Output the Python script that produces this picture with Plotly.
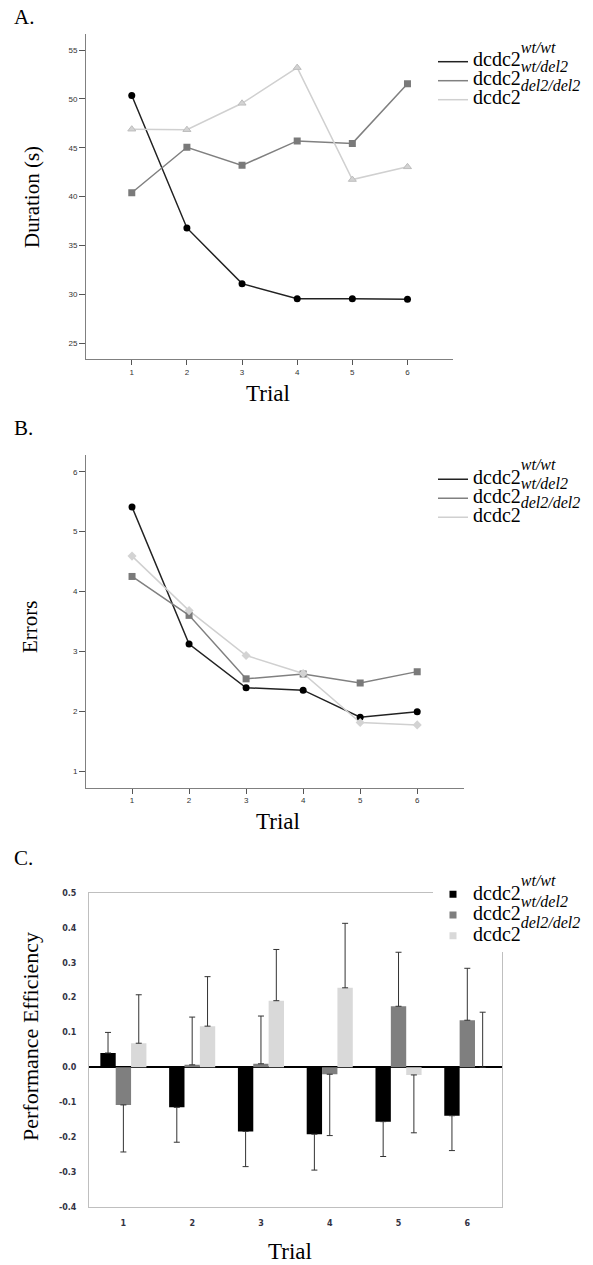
import plotly.graph_objects as go

# ---------------- data ----------------
trials = [1, 2, 3, 4, 5, 6]
trial_labels = ["1", "2", "3", "4", "5", "6"]
genotypes = ["wt/wt", "wt/del2", "del2/del2"]

# Panel A: duration (s)
duration_wt = [50.35, 36.8, 31.1, 29.55, 29.55, 29.5]
duration_het = [40.4, 45.05, 43.2, 45.7, 45.45, 51.55]
duration_del = [46.9, 46.85, 49.55, 53.2, 41.75, 43.05]
duration_ticks = [25, 30, 35, 40, 45, 50, 55]

# Panel B: errors
errors_wt = [5.41, 3.12, 2.39, 2.35, 1.90, 1.99]
errors_het = [4.25, 3.60, 2.54, 2.62, 2.47, 2.66]
errors_del = [4.59, 3.68, 2.93, 2.63, 1.81, 1.77]
errors_ticks = [1, 2, 3, 4, 5, 6]

# Panel C: performance efficiency (mean and error-bar length)
eff_wt = [0.041, -0.115, -0.184, -0.192, -0.156, -0.139]
eff_het = [-0.108, 0.007, 0.010, -0.020, 0.175, 0.135]
eff_del = [0.069, 0.118, 0.191, 0.228, -0.022, 0.000]
eff_err_wt = [0.059, 0.100, 0.101, 0.103, 0.100, 0.100]
eff_err_het = [0.135, 0.137, 0.137, 0.176, 0.155, 0.149]
eff_err_del = [0.139, 0.142, 0.147, 0.185, 0.166, 0.158]
eff_ticks = [-0.4, -0.3, -0.2, -0.1, 0.0, 0.1, 0.2, 0.3, 0.4, 0.5]
eff_tick_labels = ["-0.4", "-0.3", "-0.2", "-0.1", "0.0", "0.1", "0.2", "0.3", "0.4", "0.5"]

# ---------------- figure ----------------
W, H = 593, 1265
SERIF = "Liberation Serif, Times New Roman, serif"
SANS = "Liberation Sans, Arial, sans-serif"

line_cols = ["#222222", "#808080", "#d0d0d0"]
mark_cols = ["#000000", "#7a7a7a", "#d3d3d3"]
bar_cols = ["#000000", "#7f7f7f", "#d9d9d9"]


def lname(sup):
    return ('<span style="font-size:20px">dcdc2</span>'
            '<span style="font-size:32px"><sup><span style="font-size:16px"><i>'
            + sup + '</i></span></sup></span>')


def fx(px):
    return px / W


def fy(px):
    return 1 - px / H


fig = go.Figure()

# Panel A
symbolsA = ["circle", "square", "triangle-up"]
for i, (vals, g) in enumerate(zip([duration_wt, duration_het, duration_del], genotypes)):
    fig.add_trace(go.Scatter(x=trials, y=vals, mode="lines", name=lname(g),
                             line=dict(color=line_cols[i], width=1.5),
                             xaxis="x", yaxis="y", legend="legend"))
for i, vals in enumerate([duration_wt, duration_het, duration_del]):
    fig.add_trace(go.Scatter(x=trials, y=vals, mode="markers", showlegend=False,
                             marker=dict(symbol=symbolsA[i], size=7, color=mark_cols[i],
                                         line=dict(width=1 if i == 2 else 0, color="#bdbdbd")),
                             xaxis="x", yaxis="y"))

# Panel B
symbolsB = ["circle", "square", "diamond"]
for i, (vals, g) in enumerate(zip([errors_wt, errors_het, errors_del], genotypes)):
    fig.add_trace(go.Scatter(x=trials, y=vals, mode="lines", name=lname(g),
                             line=dict(color=line_cols[i], width=1.5),
                             xaxis="x2", yaxis="y2", legend="legend2"))
for i, vals in enumerate([errors_wt, errors_het, errors_del]):
    fig.add_trace(go.Scatter(x=trials, y=vals, mode="markers", showlegend=False,
                             marker=dict(symbol=symbolsB[i], size=7, color=mark_cols[i]),
                             xaxis="x2", yaxis="y2"))

# Panel C
for i, (vals, errs, g) in enumerate(zip([eff_wt, eff_het, eff_del],
                                        [eff_err_wt, eff_err_het, eff_err_del], genotypes)):
    plus = [e if v >= 0 else 0 for v, e in zip(vals, errs)]
    minus = [e if v < 0 else 0 for v, e in zip(vals, errs)]
    fig.add_trace(go.Bar(x=trials, y=vals, name=lname(g), showlegend=False,
                         marker=dict(color=bar_cols[i], line=dict(width=0)),
                         error_y=dict(type="data", symmetric=False, array=plus, arrayminus=minus,
                                      color="#333333", thickness=1, width=3),
                         xaxis="x3", yaxis="y3"))
for i, g in enumerate(genotypes):
    fig.add_trace(go.Scatter(x=[None], y=[None], mode="markers", name=lname(g),
                             marker=dict(symbol="square", size=7, color=bar_cols[i]),
                             xaxis="x3", yaxis="y3", legend="legend3"))

line_axis = dict(showline=True, linecolor="#808080", linewidth=1, showgrid=False, zeroline=False,
                 ticks="outside", tickcolor="#555555", tickwidth=1,
                 tickfont=dict(family=SANS, size=8, color="#333333"))

TITLE_H = 14  # spacer title font size, keeps raised superscripts inside the legend box
SPACER = TITLE_H * 1.3


def legend_box(top_px, size, bg):
    return dict(xref="paper", yref="paper", x=fx(433), y=fy(top_px - SPACER),
                xanchor="left", yanchor="top", bgcolor=bg,
                title=dict(text=" ", font=dict(size=TITLE_H)),
                font=dict(family=SERIF, size=size, color="black"), itemwidth=30)


fig.update_layout(
    width=W, height=H,
    margin=dict(l=0, r=0, t=0, b=0, pad=0, autoexpand=False),
    paper_bgcolor="white", plot_bgcolor="white",
    barmode="group", bargap=0.33, bargroupgap=0,
    showlegend=True,
    xaxis=dict(domain=[fx(86), fx(452.7)], range=[0.17, 6.82], tickvals=trials, ticktext=trial_labels,
               ticklen=5, anchor="y", **line_axis),
    yaxis=dict(domain=[fy(359.3), fy(34)], range=[23.36, 56.64], tickvals=duration_ticks,
               ticklen=6, anchor="x", **line_axis),
    xaxis2=dict(domain=[fx(86), fx(463.7)], range=[0.193, 6.815], tickvals=trials, ticktext=trial_labels,
                ticklen=5, anchor="y2", **line_axis),
    yaxis2=dict(domain=[fy(787.7), fy(455)], range=[0.721, 6.279], tickvals=errors_ticks,
                ticklen=6, anchor="x2", **line_axis),
    xaxis3=dict(domain=[fx(89), fx(501.7)], range=[0.5, 6.5], tickvals=trials, ticktext=trial_labels,
                showline=True, linecolor="#bfbfbf", linewidth=1, mirror=True, showgrid=False,
                zeroline=False, ticks="", ticklabelstandoff=9, anchor="y3",
                tickfont=dict(family="DejaVu Sans, Verdana, sans-serif", size=8, color="#333344",
                              weight="bold")),
    yaxis3=dict(domain=[fy(1206.7), fy(893)], range=[-0.4, 0.5], tickvals=eff_ticks,
                ticktext=eff_tick_labels, showline=True, linecolor="#bfbfbf", linewidth=1,
                mirror=True, showgrid=False, zeroline=True, zerolinecolor="#000000",
                zerolinewidth=1.5, ticks="", ticklabelstandoff=10, anchor="x3",
                tickfont=dict(family="DejaVu Sans, Verdana, sans-serif", size=8, color="#333344",
                              weight="bold")),
    legend=legend_box(47.2, 11, "rgba(255,255,255,0)"),
    legend2=legend_box(464.8, 11, "rgba(255,255,255,0)"),
    legend3=legend_box(879, 13.6, "white"),
)

ann = [
    ("A.", 12, 17, 0, 21, "left"),
    ("B.", 12, 427.5, 0, 21, "left"),
    ("C.", 12, 858, 0, 21, "left"),
    ("Duration (s)", 32, 197, -90, 21, "center"),
    ("Errors", 30, 627, -90, 21, "center"),
    ("Performance Efficiency", 30, 1037, -90, 22, "center"),
    ("Trial", 268, 393, 0, 23, "center"),
    ("Trial", 278, 821, 0, 23, "center"),
    ("Trial", 290, 1251, 0, 23, "center"),
]
for text, x, y, ang, size, xa in ann:
    fig.add_annotation(text=text, x=fx(x), y=fy(y), xref="paper", yref="paper",
                       xanchor=xa, yanchor="middle", textangle=ang, showarrow=False,
                       font=dict(family=SERIF, size=size, color="black"))

fig.write_html("out.html", config={"displayModeBar": False},
               post_script="document.body.style.margin='0px';document.body.style.overflow='hidden';")
